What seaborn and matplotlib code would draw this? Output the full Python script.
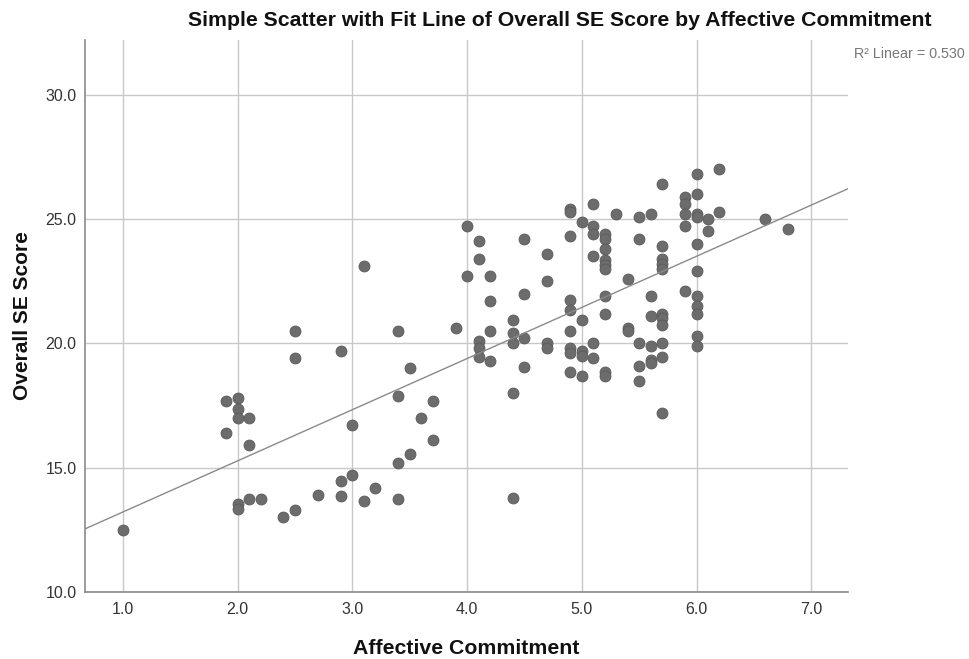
import numpy as np
import pandas as pd
import matplotlib
matplotlib.use("Agg")
import matplotlib.pyplot as plt
import seaborn as sns

# Affective Commitment (x) and Overall SE Score (y) per respondent
affective_commitment = [
    1.0, 1.9, 1.9, 2.0, 2.0, 2.0, 2.1, 2.1, 2.0, 2.0, 2.1, 2.2, 2.4, 2.5, 2.7,
    2.9, 2.9, 2.5, 2.5, 2.9, 3.0, 3.0, 3.1, 3.1, 3.2, 3.4, 3.4, 3.4, 3.4, 3.5,
    3.5, 3.6, 3.7, 3.7, 3.9, 4.0, 4.0, 4.1, 4.1, 4.1, 4.1, 4.1, 4.2, 4.2, 4.2,
    4.2, 4.4, 4.4, 4.4, 4.4, 4.4, 4.5, 4.5, 4.5, 4.5, 4.7, 4.7, 4.7, 4.7, 4.9,
    4.9, 4.9, 4.9, 4.9, 4.9, 4.9, 4.9, 4.9, 5.0, 5.0, 5.0, 5.0, 5.0, 5.1, 5.1,
    5.1, 5.1, 5.1, 5.1, 5.2, 5.2, 5.2, 5.2, 5.2, 5.2, 5.2, 5.2, 5.2, 5.2, 5.3,
    5.4, 5.4, 5.4, 5.5, 5.5, 5.5, 5.5, 5.5, 5.6, 5.6, 5.6, 5.6, 5.6, 5.6, 5.7,
    5.7, 5.7, 5.7, 5.7, 5.7, 5.7, 5.7, 5.7, 5.7, 5.7, 5.9, 5.9, 5.9, 5.9, 5.9,
    6.0, 6.0, 6.0, 6.0, 6.0, 6.0, 6.0, 6.0, 6.0, 6.0, 6.0, 6.1, 6.1, 6.2, 6.2,
    6.6, 6.8,
]
overall_se_score = [
    12.5, 17.7, 16.4, 17.8, 17.35, 17.0, 17.0, 15.9, 13.55, 13.35, 13.75, 13.75, 13.0, 13.3, 13.9,
    14.45, 13.85, 20.5, 19.4, 19.7, 16.7, 14.7, 13.65, 23.1, 14.2, 20.5, 17.9, 15.2, 13.75, 15.55,
    19.0, 17.0, 17.7, 16.1, 20.6, 24.7, 22.7, 24.1, 23.4, 20.1, 19.8, 19.45, 22.7, 21.7, 20.5,
    19.3, 20.95, 20.4, 20.0, 18.0, 13.8, 24.2, 22.0, 20.2, 19.05, 23.6, 22.5, 20.0, 19.8, 25.4,
    25.3, 24.3, 21.75, 21.35, 20.5, 19.8, 19.6, 18.85, 24.9, 20.95, 19.7, 19.5, 18.7, 25.6, 24.7,
    24.4, 23.5, 20.0, 19.4, 24.4, 24.2, 23.8, 23.35, 23.15, 23.0, 21.9, 21.2, 18.85, 18.7, 25.2,
    22.6, 20.6, 20.5, 25.1, 24.2, 20.0, 19.1, 18.5, 25.2, 21.9, 21.1, 19.9, 19.35, 19.2, 26.4,
    23.9, 23.4, 23.2, 23.0, 21.2, 21.0, 20.75, 20.0, 19.45, 17.2, 25.9, 25.6, 25.2, 24.7, 22.1,
    26.8, 26.0, 25.2, 25.1, 24.0, 22.9, 21.9, 21.5, 21.2, 20.3, 19.9, 25.0, 24.5, 27.0, 25.3,
    25.0, 24.6,
]

x_ticks = [1.0, 2.0, 3.0, 4.0, 5.0, 6.0, 7.0]
y_ticks = [10.0, 15.0, 20.0, 25.0, 30.0]

df = pd.DataFrame({"Affective Commitment": affective_commitment,
                   "Overall SE Score": overall_se_score})

# linear fit statistic shown in the corner
r = np.corrcoef(df["Affective Commitment"], df["Overall SE Score"])[0, 1]
r2 = r ** 2

sns.set_theme(style="white")
plt.rcParams["font.family"] = ["Liberation Sans", "DejaVu Sans"]

fig = plt.figure(figsize=(9.69, 6.59), dpi=100)
ax = fig.add_axes([85 / 969, 1 - 592 / 659, (848 - 85) / 969, (592 - 40) / 659])
ax.set_xlim(0.67, 7.32)
ax.set_ylim(10.0, 32.2)

ax.set_axisbelow(True)
ax.grid(True, color="#c8c8c8", linewidth=1.0)

sns.regplot(
    data=df, x="Affective Commitment", y="Overall SE Score", ax=ax,
    ci=None, truncate=False,
    scatter_kws=dict(s=62, color="#6c6c6c", edgecolor="#5a5a5a", linewidths=0.6, alpha=1.0),
    line_kws=dict(color="#8a8a8a", linewidth=1.0),
)

ax.set_xticks(x_ticks)
ax.set_yticks(y_ticks)
ax.set_xticklabels([f"{v:.1f}" for v in x_ticks])
ax.set_yticklabels([f"{v:.1f}" for v in y_ticks])
ax.tick_params(axis="both", length=0, labelsize=11.5, labelcolor="#333333")
ax.tick_params(axis="x", pad=7)
ax.tick_params(axis="y", pad=6)

for side in ("top", "right"):
    ax.spines[side].set_visible(False)
for side in ("left", "bottom"):
    ax.spines[side].set_color("#8a8a8a")
    ax.spines[side].set_linewidth(1.2)

ax.set_xlabel("Affective Commitment", fontsize=15.3, fontweight="bold", color="#111111", labelpad=16)
ax.set_ylabel("Overall SE Score", fontsize=15, fontweight="bold", color="#111111", labelpad=10)

fig.text(560 / 969, 1 - 21 / 659,
         "Simple Scatter with Fit Line of Overall SE Score by Affective Commitment",
         ha="center", va="center", fontsize=15.3, fontweight="bold", color="#111111")
fig.text(965 / 969, 1 - 54 / 659, f"R\u00b2 Linear = {r2:.3f}",
         ha="right", va="center", fontsize=10.3, color="#777777")

fig.savefig("out.png", dpi=100, facecolor="white")
